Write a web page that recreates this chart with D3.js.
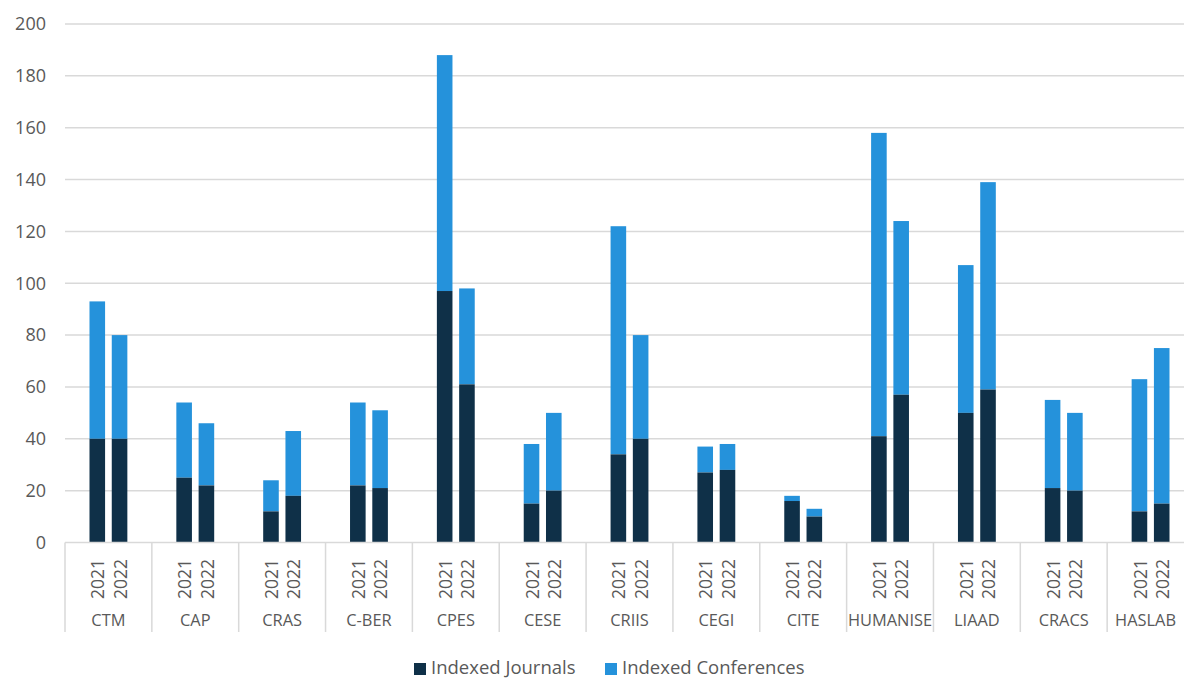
<!DOCTYPE html>
<html>
<head>
<meta charset="utf-8">
<script src="https://cdn.jsdelivr.net/npm/d3@7"></script>
<style>
  body { margin: 0; background: #fff; }
  text { font-family: "Open Sans", sans-serif; fill: #595959; }
</style>
</head>
<body>
<svg width="1184" height="678"></svg>
<script>
const units = ["CTM", "CAP", "CRAS", "C-BER", "CPES", "CESE", "CRIIS", "CEGI", "CITE", "HUMANISE", "LIAAD", "CRACS", "HASLAB"];
const years = ["2021", "2022"];
// [2021, 2022] per unit
const journals = [[40, 40], [25, 22], [12, 18], [22, 21], [97, 61], [15, 20], [34, 40], [27, 28], [16, 10], [41, 57], [50, 59], [21, 20], [12, 15]];
const conferences = [[53, 40], [29, 24], [12, 25], [32, 30], [91, 37], [23, 30], [88, 40], [10, 10], [2, 3], [117, 67], [57, 80], [34, 30], [51, 60]];
const yTicks = [0, 20, 40, 60, 80, 100, 120, 140, 160, 180, 200];

const colors = { j: "#0f3048", c: "#2592db" };

const svg = d3.select("svg");
const x0 = d3.scaleBand().domain(units).range([65, 1194]);
const x1 = d3.scaleBand().domain(years).range([0, x0.bandwidth()]).paddingInner(0.3).paddingOuter(1.1);
const y = d3.scaleLinear().domain([0, 200]).range([542.5, 24]);

// gridlines
svg.append("g").selectAll("line").data(yTicks.slice(1)).enter().append("line")
  .attr("x1", 65).attr("x2", 1184)
  .attr("y1", d => y(d)).attr("y2", d => y(d))
  .attr("stroke", "#d9d9d9").attr("stroke-width", 1.5);

// y labels
svg.append("g").selectAll("text").data(yTicks).enter().append("text")
  .attr("x", 46).attr("y", d => y(d)).attr("dy", "0.35em")
  .attr("text-anchor", "end").style("font-size", "18px")
  .text(d => d);

// bars
const rows = [];
units.forEach((u, i) => years.forEach((yr, k) => {
  rows.push({ u, yr, j: journals[i][k], c: conferences[i][k] });
}));
const bars = svg.append("g");
rows.forEach(r => {
  const bx = x0(r.u) + x1(r.yr);
  bars.append("rect").attr("x", bx).attr("width", x1.bandwidth())
    .attr("y", y(r.j + r.c)).attr("height", y(r.j) - y(r.j + r.c))
    .attr("fill", colors.c);
  bars.append("rect").attr("x", bx).attr("width", x1.bandwidth())
    .attr("y", y(r.j)).attr("height", y(0) - y(r.j))
    .attr("fill", colors.j);
});

// axis line
svg.append("line").attr("x1", 65).attr("x2", 1184)
  .attr("y1", y(0)).attr("y2", y(0))
  .attr("stroke", "#d9d9d9").attr("stroke-width", 1.5);

// category dividers
svg.append("g").selectAll("line").data(units.map(u => x0(u)).concat([x0.range()[1]])).enter().append("line")
  .attr("x1", d => d).attr("x2", d => d)
  .attr("y1", y(0)).attr("y2", 632)
  .attr("stroke", "#d9d9d9").attr("stroke-width", 1.5);

// year labels
rows.forEach(r => {
  const cx = x0(r.u) + x1(r.yr) + x1.bandwidth() / 2;
  svg.append("text")
    .attr("transform", `translate(${cx + 1},579) rotate(-90)`)
    .attr("text-anchor", "middle").attr("dy", "0.35em")
    .style("font-size", "17.5px").text(r.yr);
});

// unit labels
svg.append("g").selectAll("text").data(units).enter().append("text")
  .attr("x", d => x0(d) + x0.bandwidth() / 2 - (d === "HASLAB" ? 5 : 0))
  .attr("y", 626).attr("text-anchor", "middle")
  .style("font-size", "16.4px").text(d => d);

// legend
const legend = [
  { name: "Indexed Journals", color: colors.j, x: 414 },
  { name: "Indexed Conferences", color: colors.c, x: 605 }
];
const lg = svg.append("g");
legend.forEach(l => {
  lg.append("rect").attr("x", l.x).attr("y", 663).attr("width", 12).attr("height", 12).attr("fill", l.color);
  lg.append("text").attr("x", l.x + 17).attr("y", 674).style("font-size", "18.5px").text(l.name);
});
</script>
</body>
</html>
